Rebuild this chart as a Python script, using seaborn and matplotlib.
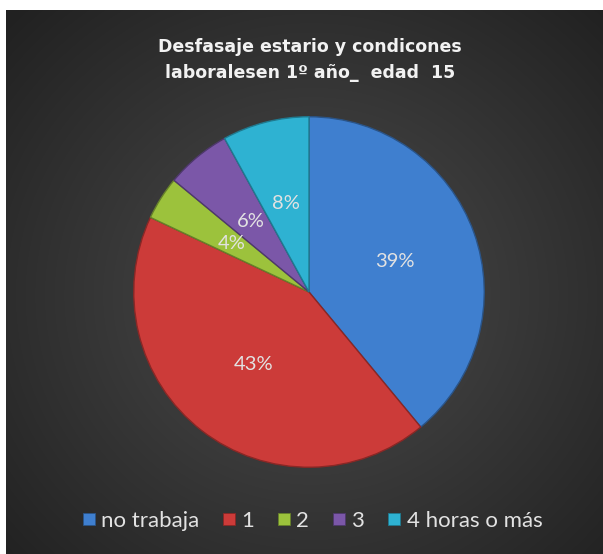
import numpy as np
import matplotlib.pyplot as plt
import seaborn as sns

###############################################################################
# Data

categories = ['no trabaja', '1', '2', '3', '4 horas o más']
shares = [39, 43, 4, 6, 8]
colors = ['#3f7fcf', '#cc3b39', '#9cc23c', '#7b57a8', '#2eb2d2']
edge_colors = ['#2a5488', '#8a2725', '#66802a', '#4e386c', '#1f7a90']
title_lines = ['Desfasaje estario y condicones', 'laboralesen 1º año_  edad  15']

###############################################################################
# Figure

sns.set_style('white')
plt.rcParams['font.family'] = ['Lato', 'DejaVu Sans']

W, H = 603, 554
fig = plt.figure(figsize=(W / 100, H / 100), dpi=100)
fig.patch.set_facecolor('white')

# dark radial gradient background (white strip on top and left like the screenshot)
bg = fig.add_axes([6 / W, 0, (W - 6) / W, (H - 10) / H])
yy, xx = np.mgrid[0:544, 0:597]
d = np.sqrt(((xx - 305) / 420) ** 2 + ((yy - 285) / 400) ** 2)
shade = np.clip(0.30 - 0.17 * d, 0.13, 0.30)
bg.imshow(np.dstack([shade, shade, shade]), aspect='auto', interpolation='bilinear')
bg.set_axis_off()

# pie
cx, cy, r = 309, H - 292, 177
ax = fig.add_axes([(cx - r) / W, (cy - r) / H, 2 * r / W, 2 * r / H])
wedges, texts, autotexts = ax.pie(
    shares, colors=colors, startangle=90, counterclock=False,
    autopct='%1.0f%%', pctdistance=0.52, radius=1,
    wedgeprops=dict(linewidth=1.0),
    textprops=dict(color='#e2e2e2', fontsize=14.5),
)
for w, ec in zip(wedges, edge_colors):
    w.set_edgecolor(ec)
ax.set_xlim(-1.01, 1.01)
ax.set_ylim(-1.01, 1.01)
ax.set_axis_off()

# title
for i, line in enumerate(title_lines):
    fig.text(310 / W, (H - 47 - 26 * i) / H, line, ha='center', va='center',
             fontsize=12.5, fontweight='bold', color='#f2f2f2',
             family=['DejaVu Sans'])

# legend
handles = [plt.Line2D([], [], marker='s', linestyle='', markersize=8.5,
                      markerfacecolor=c, markeredgecolor=ec, markeredgewidth=0.6)
           for c, ec in zip(colors, edge_colors)]
leg = fig.legend(handles, categories, loc='center', bbox_to_anchor=(311 / W, (H - 521) / H),
                 ncol=5, frameon=False, fontsize=16, handletextpad=0.15,
                 columnspacing=0.95, handlelength=0.8)
for t in leg.get_texts():
    t.set_color('#e2e2e2')

fig.savefig('out.png', dpi=100)
